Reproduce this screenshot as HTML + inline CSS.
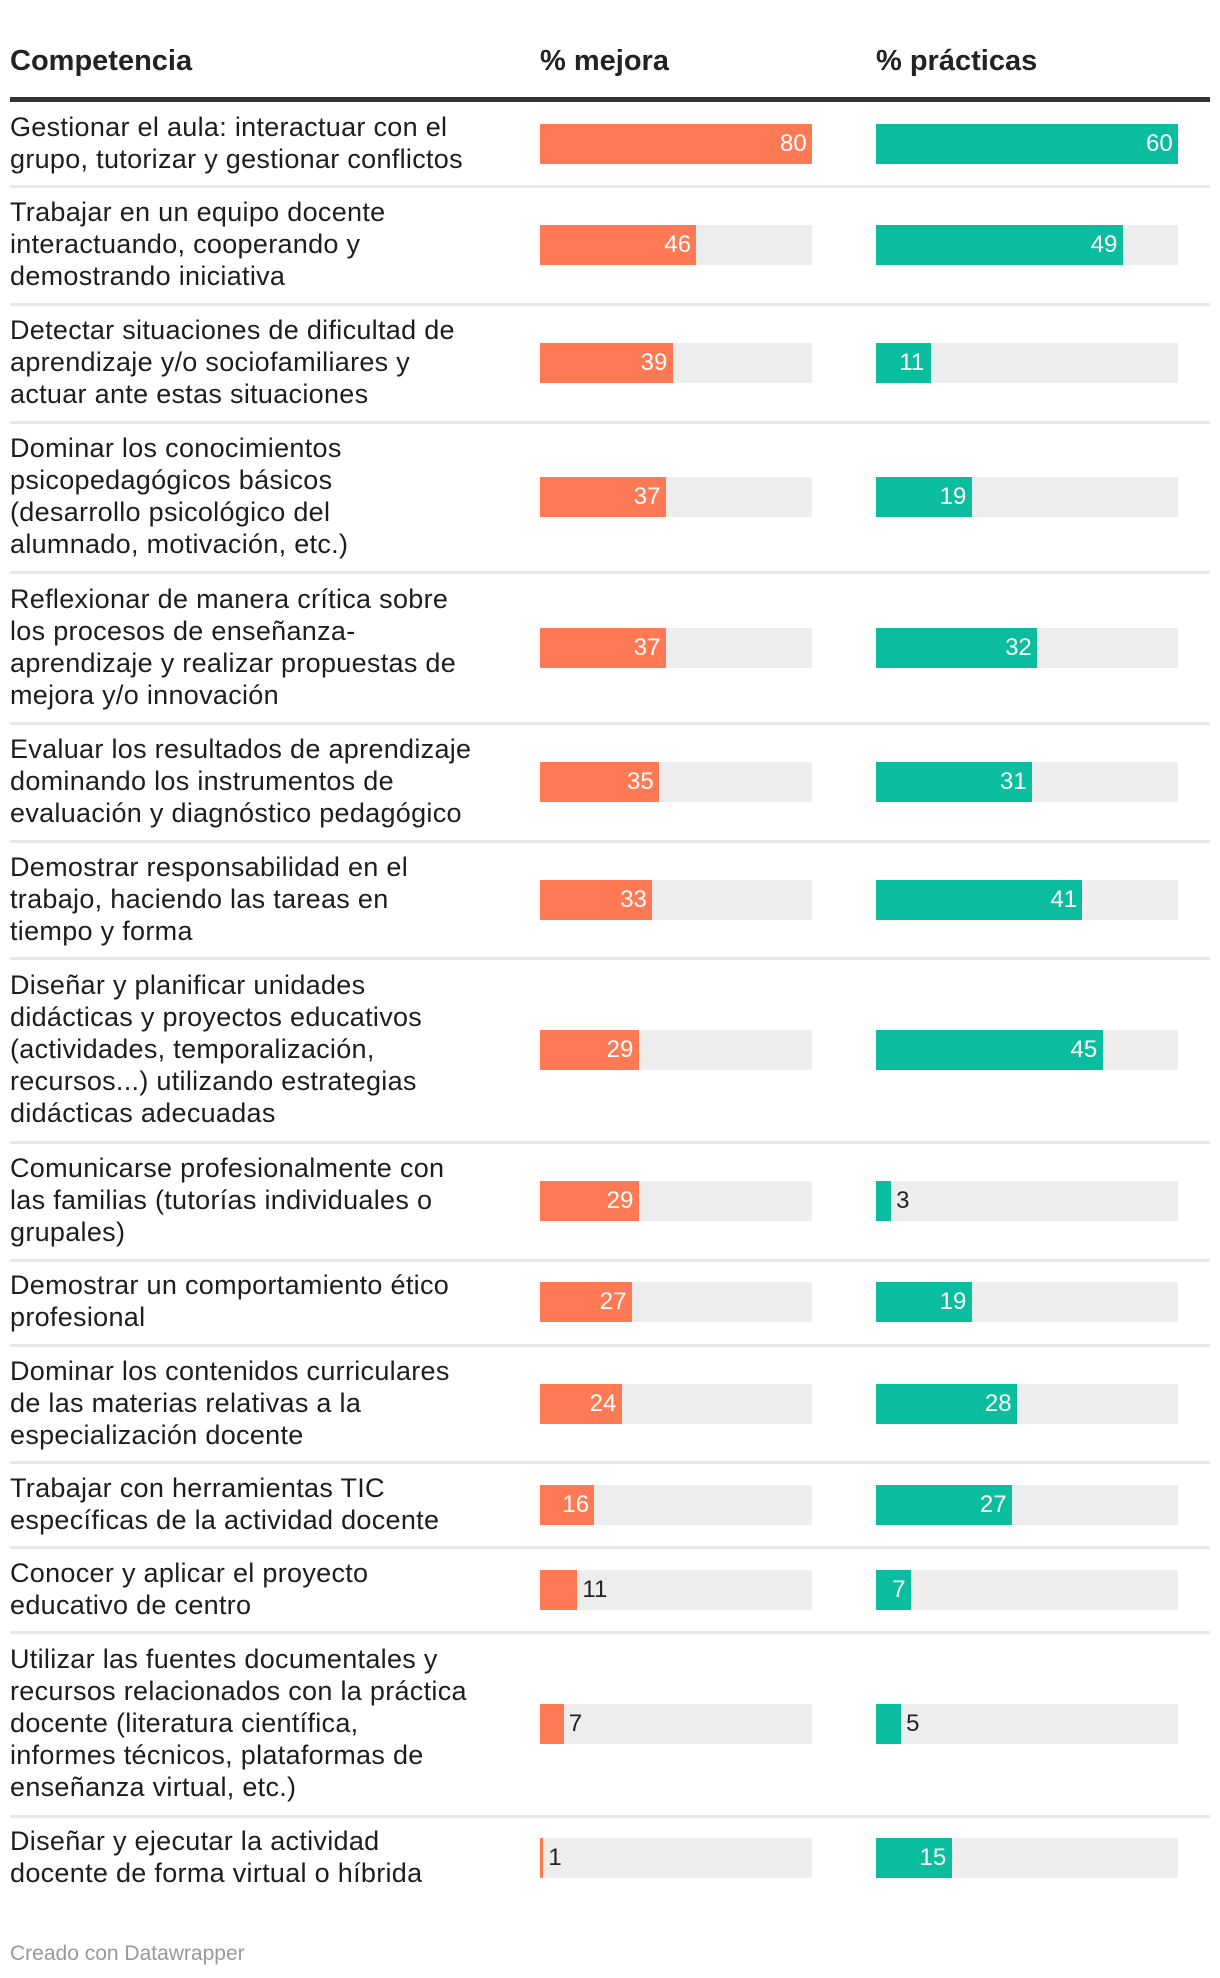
<!DOCTYPE html>
<html><head><meta charset="utf-8">
<style>
html,body{margin:0;padding:0;background:#fff;}
body{width:1220px;height:1978px;position:relative;overflow:hidden;font-family:"Liberation Sans",sans-serif;color:#1d1d1d;}
.hd{position:absolute;top:45px;font-size:29px;font-weight:bold;color:#222;}
.lbl{position:absolute;left:10px;font-size:27px;line-height:32px;letter-spacing:0.3px;color:#1d1d1d;white-space:nowrap;}
.sep{position:absolute;left:10px;width:1200px;height:3px;background:#e8e8e8;}
.track{position:absolute;height:40px;background:#ededed;}
.bar{position:absolute;height:40px;}
.val{position:absolute;font-size:24px;line-height:40px;}
</style></head><body>
<div class="hd" style="left:10px">Competencia</div>
<div class="hd" style="left:540px">% mejora</div>
<div class="hd" style="left:876px">% prácticas</div>
<div style="position:absolute;left:10px;top:97px;width:1200px;height:5px;background:#333"></div>
<div id="chart"></div>
<div style="position:absolute;left:10px;top:1942px;font-size:21px;color:#999">Creado con Datawrapper</div>
<script>
const categories = [
 ["Gestionar el aula: interactuar con el","grupo, tutorizar y gestionar conflictos"],
 ["Trabajar en un equipo docente","interactuando, cooperando y","demostrando iniciativa"],
 ["Detectar situaciones de dificultad de","aprendizaje y/o sociofamiliares y","actuar ante estas situaciones"],
 ["Dominar los conocimientos","psicopedagógicos básicos","(desarrollo psicológico del","alumnado, motivación, etc.)"],
 ["Reflexionar de manera crítica sobre","los procesos de enseñanza-","aprendizaje y realizar propuestas de","mejora y/o innovación"],
 ["Evaluar los resultados de aprendizaje","dominando los instrumentos de","evaluación y diagnóstico pedagógico"],
 ["Demostrar responsabilidad en el","trabajo, haciendo las tareas en","tiempo y forma"],
 ["Diseñar y planificar unidades","didácticas y proyectos educativos","(actividades, temporalización,","recursos...) utilizando estrategias","didácticas adecuadas"],
 ["Comunicarse profesionalmente con","las familias (tutorías individuales o","grupales)"],
 ["Demostrar un comportamiento ético","profesional"],
 ["Dominar los contenidos curriculares","de las materias relativas a la","especialización docente"],
 ["Trabajar con herramientas TIC","específicas de la actividad docente"],
 ["Conocer y aplicar el proyecto","educativo de centro"],
 ["Utilizar las fuentes documentales y","recursos relacionados con la práctica","docente (literatura científica,","informes técnicos, plataformas de","enseñanza virtual, etc.)"],
 ["Diseñar y ejecutar la actividad","docente de forma virtual o híbrida"]
];
const mejora = [80,46,39,37,37,35,33,29,29,27,24,16,11,7,1];
const practicas = [60,49,11,19,32,31,41,45,3,19,28,27,7,5,15];

const chartEl = document.getElementById('chart');
const colM = {x:540, w:272, max:80, color:'#ff7954', name:'mejora'};
const colP = {x:876, w:302, max:60, color:'#0bbd9f', name:'practicas'};
const lineH = 32;
let yPos = 102;
function scaleX(col, v){ return v / col.max * col.w; }
function mk(cls, css){ const d=document.createElement('div'); d.className=cls; Object.assign(d.style, css); chartEl.appendChild(d); return d; }
categories.forEach((lines, i) => {
  const n = lines.length;
  const rowH = n*32.8 + 19.4;
  const center = yPos + rowH/2 - 1;
  const l = mk('lbl', {top:(center - n*lineH/2 - 1)+'px'});
  l.innerHTML = lines.join('<br>');
  
  
  [[colM, mejora[i]], [colP, practicas[i]]].forEach(([col, v]) => {
    const t = mk('track', {left:col.x+'px', top:(center-20)+'px', width:col.w+'px'});
    
    
    const w = scaleX(col, v);
    const b = mk('bar', {left:col.x+'px', top:(center-20)+'px', width:w+'px', background:col.color});
    
    
    const txt = String(v);
    const tw = txt.length * 13;
    const val = mk('val', {top:(center-20)+'px'});
    val.textContent = txt;
    
    
    if (w > tw + 20) { val.style.left = (col.x + w - tw - 6) + 'px'; val.style.color = '#fff'; }
    else { val.style.left = (col.x + w + 5) + 'px'; val.style.color = '#222'; }
  });
  yPos += rowH;
  if (i < categories.length - 1) {
    const s = mk('sep', {top:(yPos-2)+'px'});
    
    
  }
});
</script>
</body></html>
